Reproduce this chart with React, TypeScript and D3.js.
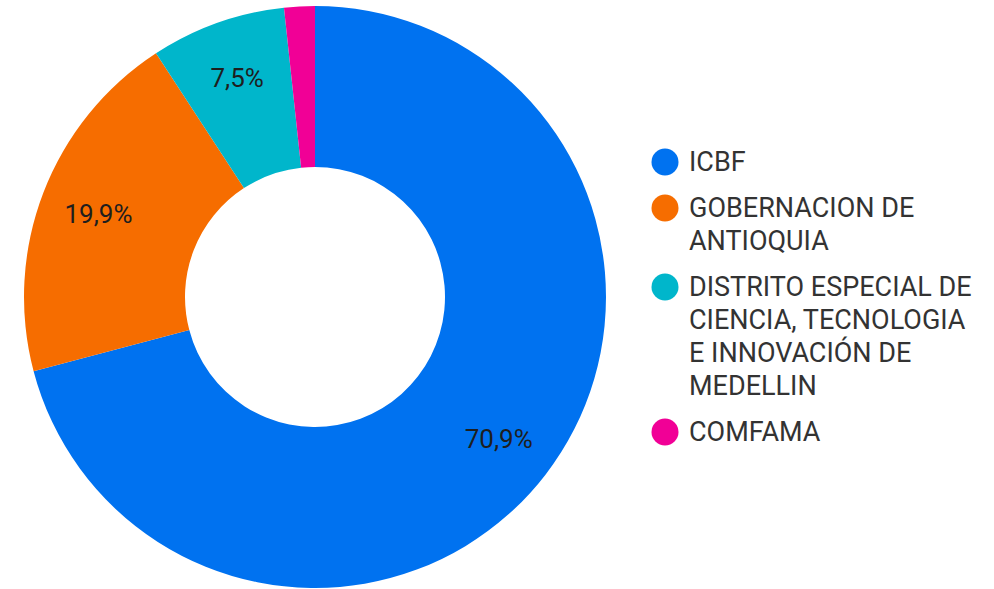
import React from "react";
import * as d3 from "d3";

const categories = ["ICBF", "GOBERNACION DE ANTIOQUIA", "DISTRITO ESPECIAL DE CIENCIA, TECNOLOGIA E INNOVACIÓN DE MEDELLIN", "COMFAMA"];
const values = [70.9, 19.9, 7.5, 1.7];
const legendLines = [["ICBF"], ["GOBERNACION DE", "ANTIOQUIA"], ["DISTRITO ESPECIAL DE", "CIENCIA, TECNOLOGIA", "E INNOVACIÓN DE", "MEDELLIN"], ["COMFAMA"]];
const colors = ["#0072f0", "#f66d00", "#00b6cb", "#f10096"];

const W = 994, H = 589;
const cx = 315, cy = 297, rOuter = 291, rInner = 130, rLabel = 232;
const FONT = "Roboto, sans-serif";

export default function App() {
  const pie = d3.pie<number>().value((d) => d).sort(null);
  const arcs = pie(values);
  const arc = d3.arc<d3.PieArcDatum<number>>().innerRadius(rInner).outerRadius(rOuter);
  const labelArc = d3.arc<d3.PieArcDatum<number>>().innerRadius(rLabel).outerRadius(rLabel);
  const total = d3.sum(values);
  const fmt = (v: number) => (v).toFixed(1).replace(".", ",") + "%";

  const lineH = 33, itemGap = 46;
  let y = 162;
  const legendItems = legendLines.map((lines, i) => {
    const item = { y, lines, i };
    y += (lines.length - 1) * lineH + itemGap;
    return item;
  });

  return (
    <svg width={W} height={H} style={{ position: "absolute", left: 0, top: 0 }}>
      <rect width={W} height={H} fill="#fff" />
      <g transform={`translate(${cx},${cy})`}>
        {arcs.map((a, i) => (
          <path key={i} d={arc(a) || ""} fill={colors[i]} />
        ))}
        {arcs.map((a, i) => {
          if ((a.value / total) < 0.05) return null;
          const [x, yy] = labelArc.centroid(a);
          return (
            <text key={i} x={x} y={yy} textAnchor="middle" dominantBaseline="central" fontFamily={FONT} fontSize={26} fill="#1e1e1e">
              {fmt(a.value)}
            </text>
          );
        })}
      </g>
      {legendItems.map((it) => (
        <g key={it.i}>
          <circle cx={665} cy={it.y} r={13.5} fill={colors[it.i]} />
          {it.lines.map((l, j) => (
            <text key={j} x={689} y={it.y + j * lineH} dominantBaseline="central" fontFamily={FONT} fontSize={27} fill="#333">
              {l}
            </text>
          ))}
        </g>
      ))}
    </svg>
  );
}
